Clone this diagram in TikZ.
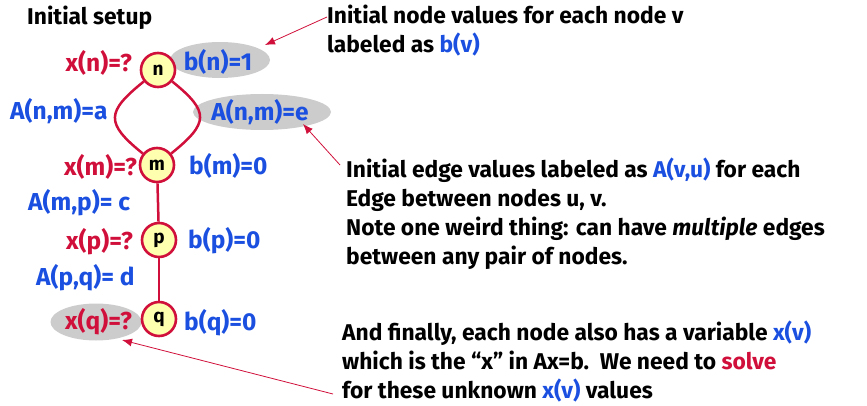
\documentclass[tikz,border=0pt]{standalone}
\usepackage{fontspec}
\setmainfont{Fira Sans}
\usetikzlibrary{shapes.geometric,arrows.meta}
\definecolor{cred}{HTML}{D0103A}
\definecolor{cblue}{HTML}{1A4FE0}
\definecolor{cgray}{HTML}{CCCCCC}
\definecolor{cyel}{HTML}{FFFFB0}
\tikzset{
  vnode/.style={circle, draw=cred, line width=2.6pt, fill=cyel, minimum size=34pt, inner sep=0pt, font=\fontsize{19}{19}\selectfont\bfseries},
  edge/.style={draw=cred, line width=2.5pt},
  lab/.style={font=\fontsize{24.5}{28}\selectfont\bfseries, inner sep=0pt},
  rlab/.style={lab, text=cred, anchor=east},
  blab/.style={lab, text=cblue},
  hl/.style={ellipse, fill=cgray, inner sep=0pt},
  txt/.style={font=\fontsize{22.8}{29}\selectfont\bfseries, align=left, inner sep=0pt, anchor=base west},
  arr/.style={draw=cred, line width=0.8pt, -{Latex[length=10pt,width=8pt]}}
}
\begin{document}
\begin{tikzpicture}[x=1pt,y=-1pt]
\useasboundingbox (0,0) rectangle (867,406);
% highlight ellipses
\node[hl, minimum width=100pt, minimum height=36pt] (ebn) at (220,60) {};
\node[hl, minimum width=138pt, minimum height=36pt] (eanm) at (262,112) {};
\node[hl, minimum width=91pt, minimum height=37pt] (exq) at (96,322) {};
% title
\node[txt] (title) at (27,25) {Initial setup};
% graph nodes
\node[vnode] (n) at (158,70) {n};
\node[vnode] (m) at (157,165) {m};
\node[vnode] (p) at (159,240) {p};
\node[vnode] (q) at (159,319) {q};
\draw[edge] (n) .. controls +(-52,42) and +(-52,-42) .. (m);
\draw[edge] (n) .. controls +(52,42) and +(52,-42) .. (m);
\draw[edge] (m) -- (p);
\draw[edge] (p) -- (q);
% labels
\node[rlab] (xn) at (132,63) {x(n)=?};
\node[blab] (bn) at (218,62) {b(n)=1};
\node[blab, anchor=west] (anma) at (10,111) {A(n,m)=a};
\node[blab] (anme) at (260,112) {A(n,m)=e};
\node[rlab] (xm) at (137,167) {x(m)=?};
\node[blab, anchor=west] (bm) at (189,166) {b(m)=0};
\node[blab, anchor=west] (amp) at (28,203) {A(m,p)= c};
\node[rlab] (xp) at (133,242) {x(p)=?};
\node[blab, anchor=west] (bp) at (188,241) {b(p)=0};
\node[blab, anchor=west] (apq) at (36,278) {A(p,q)= d};
\node[rlab] (xq) at (132,322) {x(q)=?};
\node[blab, anchor=west] (bq) at (184,323) {b(q)=0};
% explanation texts (anchor = baseline of last line)
\node[txt] (t1) at (327,53) {Initial node values for each node v\\labeled as \textcolor{cblue}{b(v)}};
\node[txt] (t2) at (346,264) {Initial edge values labeled as \textcolor{cblue}{A(v,u)} for each\\Edge between nodes u, v.\\Note one weird thing: can have \textit{multiple} edges\\between any pair of nodes.};
\node[txt] (t3) at (342,398) {And finally, each node also has a variable \textcolor{cblue}{x(v)}\\which is the ``x'' in Ax=b.\ \ We need to \textcolor{cred}{solve}\\for these unknown \textcolor{cblue}{x(v)} values};
% arrows
\coordinate (a1s) at (327,17);
\coordinate (a1e) at (265,45);
\coordinate (a2s) at (340,165);
\coordinate (a2e) at (303,124);
\coordinate (a3s) at (333,394);
\coordinate (a3e) at (122,340);
\draw[arr] (a1s) -- (a1e);
\draw[arr] (a2s) -- (a2e);
\draw[arr] (a3s) -- (a3e);
\end{tikzpicture}
\end{document}
